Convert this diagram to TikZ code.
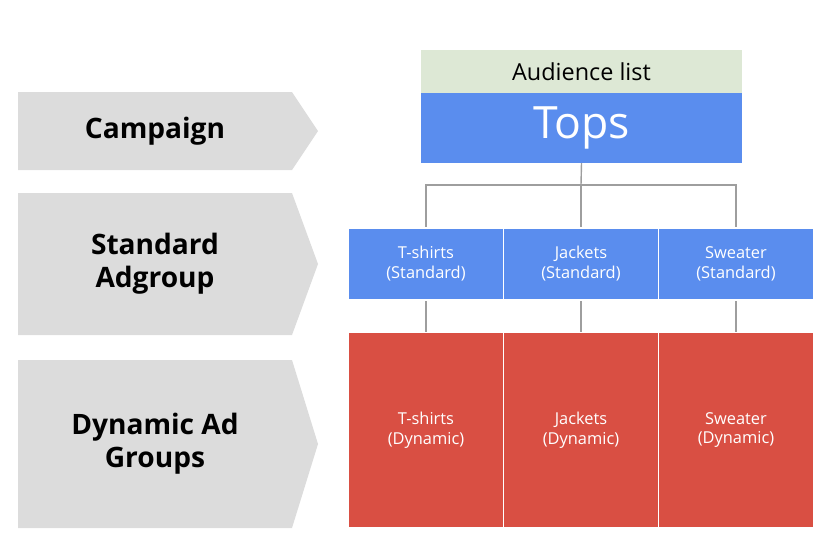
\documentclass[tikz,border=0pt]{standalone}
\usepackage{fontspec}
\setmainfont{Open Sans}
\usetikzlibrary{positioning}
\definecolor{chevgray}{HTML}{DCDCDC}
\definecolor{topblue}{HTML}{5A8DEE}
\definecolor{listgreen}{HTML}{DDE8D5}
\definecolor{dynred}{HTML}{D94F43}
\definecolor{linegray}{HTML}{9E9E9E}
\begin{document}
\begin{tikzpicture}[x=0.03cm,y=-0.03cm]
        \tikzset{level/.style = {font=\bfseries\fontsize{24}{28}\selectfont, align=center}}
        \tikzset{stdbox/.style = {draw=white, line width=1pt, fill=topblue, text=white, minimum width=155*0.03cm, minimum height=72*0.03cm, align=center, font=\fontsize{14}{17}\selectfont}}
        \tikzset{dynbox/.style = {draw=white, line width=1pt, fill=dynred, text=white, minimum width=155*0.03cm, minimum height=195*0.03cm, align=center, font=\fontsize{14}{17}\selectfont}}
        \tikzset{link/.style = {draw=linegray, line width=1.2pt}}
        \useasboundingbox (0,0) rectangle (827,553);
        % left chevrons
        \fill[chevgray] (18,92) -- (292,92) -- (318,131) -- (292,170) -- (18,170) -- cycle;
        \fill[chevgray] (18,193) -- (292,193) -- (318,264) -- (292,335) -- (18,335) -- cycle;
        \fill[chevgray] (18,360) -- (292,360) -- (318,444) -- (292,528) -- (18,528) -- cycle;
        \node[level] (camp) at (155,131) {Campaign};
        \node[level] (std) at (155,264) {Standard\\Adgroup};
        \node[level] (dyn) at (155,444) {Dynamic Ad\\Groups};
        % campaign
        \node[fill=listgreen, minimum width=321*0.03cm, minimum height=43*0.03cm, font=\fontsize{20}{24}\selectfont] (list) at (581.5,71.5) {Audience list};
        \node[fill=topblue, text=white, minimum width=321*0.03cm, minimum height=70*0.03cm, font=\fontsize{38}{44}\selectfont] (tops) at (581.5,128) {Tops};
        % ad groups
        \node[stdbox] (s1) at (426,264) {T-shirts\\(Standard)};
        \node[stdbox] (s2) at (581,264) {Jackets\\(Standard)};
        \node[stdbox] (s3) at (736,264) {Sweater\\(Standard)};
        \node[dynbox] (d1) at (426,430) {T-shirts\\(Dynamic)};
        \node[dynbox] (d2) at (581,430) {Jackets\\(Dynamic)};
        \node[dynbox] (d3) at (736,430) {Sweater\\(Dynamic)};
        \coordinate (fork) at (581,185);
        \draw[link] (tops.south) -- (fork);
        \draw[link] (s1.north) |- (fork) -| (s3.north);
        \draw[link] (fork) -- (s2.north);
        \draw[link] (s1) -- (d1);
        \draw[link] (s2) -- (d2);
        \draw[link] (s3) -- (d3);
        \node[stdbox] at (s1) {T-shirts\\(Standard)};
        \node[stdbox] at (s2) {Jackets\\(Standard)};
        \node[stdbox] at (s3) {Sweater\\(Standard)};
        \node[dynbox] at (d1) {T-shirts\\(Dynamic)};
        \node[dynbox] at (d2) {Jackets\\(Dynamic)};
        \node[dynbox] at (d3) {Sweater\\(Dynamic)};
      \end{tikzpicture}
\end{document}
